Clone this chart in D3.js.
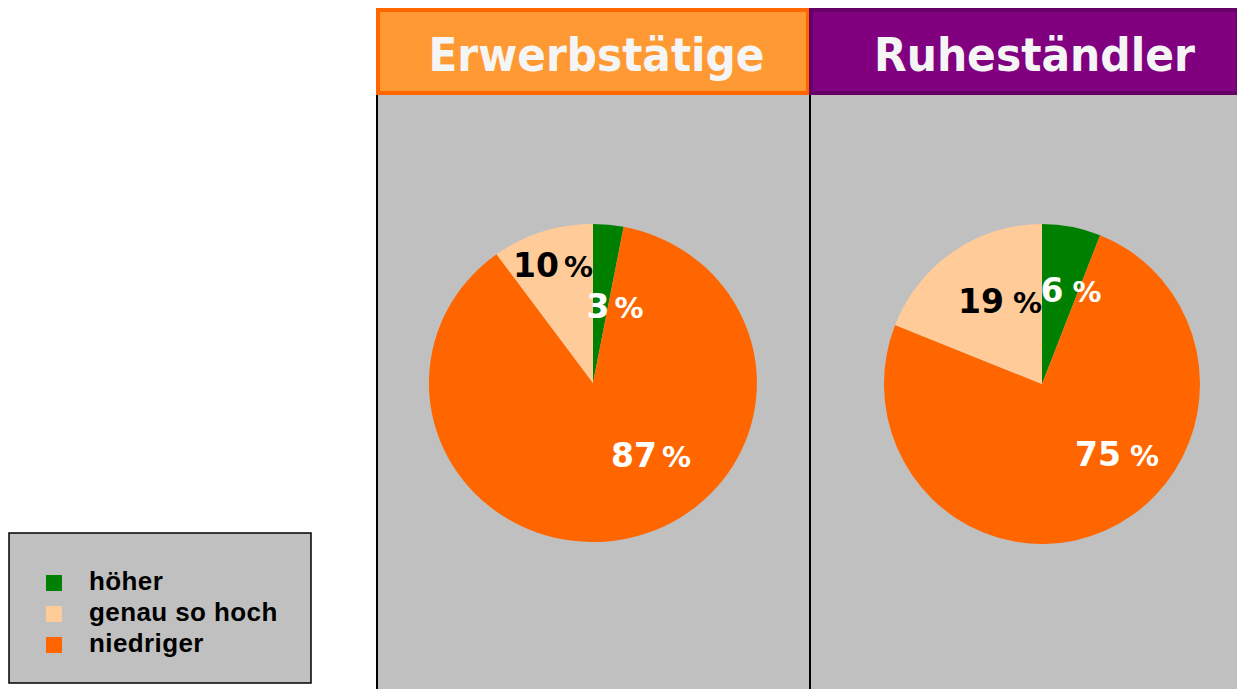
<!DOCTYPE html>
<html>
<head>
<meta charset="utf-8">
<script src="https://cdn.jsdelivr.net/npm/d3@7"></script>
<style>
  body { margin: 0; background: #fff; }
  svg { display: block; }
</style>
</head>
<body>
<div id="chart"></div>
<script>
var width = 1237, height = 689;

// data
var groups = ["Erwerbstätige", "Ruheständler"];
var categories = ["höher", "genau so hoch", "niedriger"];
var erwerbValues = [3, 10, 87];
var ruheValues = [6, 19, 75];
var labelsErwerb = ["3%", "10%", "87%"];
var labelsRuhe = ["6 %", "19 %", "75 %"];

var color = d3.scaleOrdinal()
    .domain(categories)
    .range(["#008000", "#FFCC99", "#FF6600"]);

// draw order clockwise from 12 o'clock: höher, niedriger, genau so hoch
var drawOrder = ["höher", "niedriger", "genau so hoch"];

var svg = d3.select("#chart")
    .append("svg")
    .attr("width", width)
    .attr("height", height);

var panels = [
  {name: groups[0], values: erwerbValues, labels: labelsErwerb, x0: 377, x1: 810,
   head: "#FF9933", headStroke: "#FF6600", cx: 593, cy: 383, rx: 164, ry: 159,
   titleX: 596.5, titleW: 336,
   labelPos: [[615, 318, "#fff"], [553, 277, "#000"], [651, 467, "#fff"]]},
  {name: groups[1], values: ruheValues, labels: labelsRuhe, x0: 810, x1: 1240,
   head: "#800080", headStroke: "#660066", cx: 1042, cy: 384, rx: 158, ry: 160,
   titleX: 1034.5, titleW: 321,
   labelPos: [[1071, 302, "#fff"], [1000, 313, "#000"], [1117, 466, "#fff"]]}
];

// panels background
panels.forEach(function(p) {
  svg.append("rect")
    .attr("x", p.x0).attr("y", 95)
    .attr("width", p.x1 - p.x0).attr("height", height - 95)
    .attr("fill", "#C0C0C0");
});
panels.forEach(function(p) {
  svg.append("line")
    .attr("x1", p.x0).attr("x2", p.x0)
    .attr("y1", 95).attr("y2", height)
    .attr("stroke", "#000").attr("stroke-width", 2);
});

// headers
panels.forEach(function(p) {
  svg.append("rect")
    .attr("x", p.x0 + 1).attr("y", 10)
    .attr("width", p.x1 - p.x0 - 3).attr("height", 83)
    .attr("fill", p.head)
    .attr("stroke", p.headStroke)
    .attr("stroke-width", 4);
  svg.append("text")
    .attr("x", p.titleX - p.titleW / 2)
    .attr("y", 71)
    .attr("font-family", "DejaVu Sans, Verdana, sans-serif")
    .attr("font-weight", "bold")
    .attr("font-size", 46)
    .attr("textLength", p.titleW)
    .attr("lengthAdjust", "spacingAndGlyphs")
    .attr("fill", "#F5F5F5")
    .text(p.name);
});

var pie = d3.pie()
    .sort(null)
    .value(function(d) { return d.value; });

var arc = d3.arc().innerRadius(0).outerRadius(1);

panels.forEach(function(p) {
  var rows = drawOrder.map(function(c) {
    return {cat: c, value: p.values[categories.indexOf(c)]};
  });
  var g = svg.append("g")
    .attr("transform", "translate(" + p.cx + "," + p.cy + ") scale(" + p.rx + "," + p.ry + ")");
  g.selectAll("path")
    .data(pie(rows))
    .enter()
    .append("path")
    .attr("d", arc)
    .attr("fill", function(d) { return color(d.data.cat); });

  p.labels.forEach(function(t, i) {
    var pos = p.labelPos[i];
    var num = t.replace(/\s*%/, "");
    var txt = svg.append("text")
      .attr("x", pos[0]).attr("y", pos[1])
      .attr("text-anchor", "middle")
      .attr("font-family", "DejaVu Sans, Verdana, sans-serif")
      .attr("fill", pos[2]);
    txt.append("tspan").attr("font-size", 33).attr("font-weight", "bold").text(num);
    txt.append("tspan").attr("font-size", 29).attr("font-weight", "bold")
      .attr("dx", t.indexOf(" ") >= 0 ? 9 : 5).text("%");
  });
});

// legend
var legend = svg.append("g");
legend.append("rect")
  .attr("x", 9).attr("y", 533)
  .attr("width", 302).attr("height", 150)
  .attr("fill", "#C0C0C0")
  .attr("stroke", "#000")
  .attr("stroke-width", 1.5);

var legendY = d3.scalePoint().domain(categories).range([583, 645]);

legend.selectAll(".sw")
  .data(categories)
  .enter()
  .append("rect")
  .attr("x", 46)
  .attr("y", function(d) { return legendY(d) - 8; })
  .attr("width", 16).attr("height", 16)
  .attr("fill", function(d) { return color(d); });

legend.selectAll(".lt")
  .data(categories)
  .enter()
  .append("text")
  .attr("x", 89)
  .attr("y", function(d) { return legendY(d) + 6.5; })
  .attr("font-family", "Liberation Sans, Arial, sans-serif")
  .attr("font-weight", "bold")
  .attr("font-size", 26)
  .attr("letter-spacing", 0.4)
  .attr("fill", "#000")
  .text(function(d) { return d; });
</script>
</body>
</html>
